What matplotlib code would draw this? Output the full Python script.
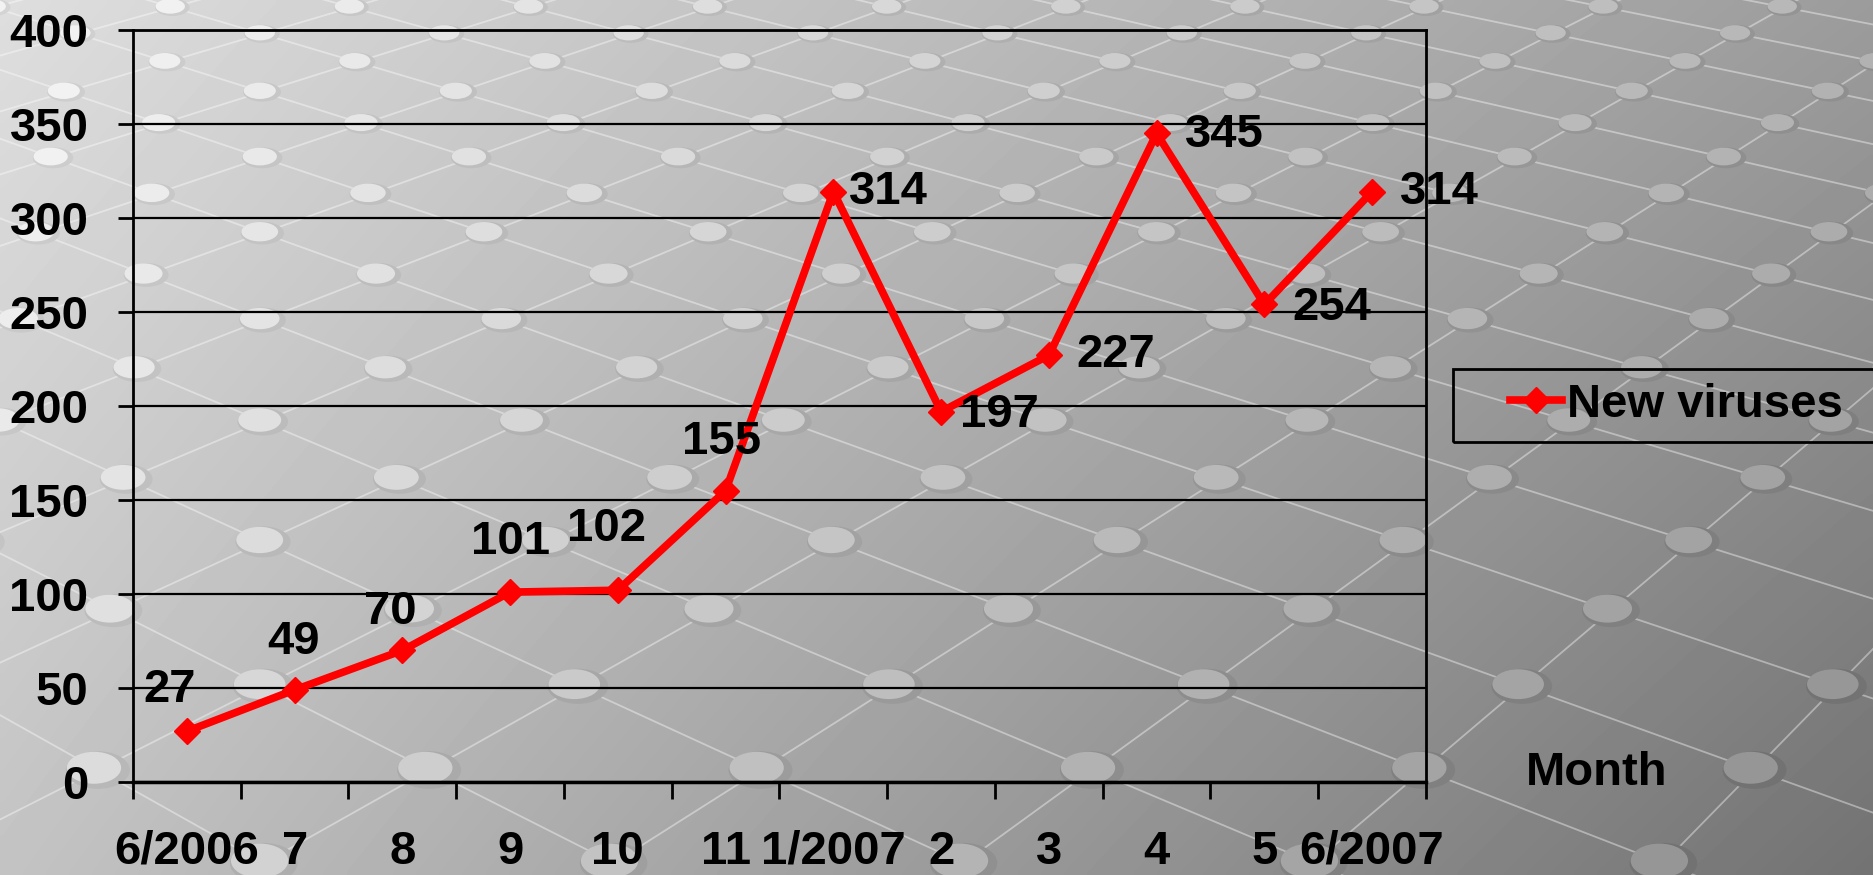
import numpy as np
import matplotlib
matplotlib.use("Agg")
import matplotlib.pyplot as plt
from matplotlib.patches import Ellipse, Rectangle

# data
months = ["6/2006", "7", "8", "9", "10", "11", "1/2007", "2", "3", "4", "5", "6/2007"]
new_viruses = [27, 49, 70, 101, 102, 155, 314, 197, 227, 345, 254, 314]
y_ticks = [0, 50, 100, 150, 200, 250, 300, 350, 400]
series_name = "New viruses"

# label offsets in pixels (dx, dy, ha)
label_offsets = [(-17, 41, "center"), (-1, 48, "center"), (-12, 38, "center"),
                 (0, 50, "center"), (-11, 61, "center"), (-4, 49, "center"),
                 (16, 0, "left"), (19, -3, "left"), (28, 0, "left"),
                 (28, -2, "left"), (28, -4, "left"), (28, 0, "left")]

W, H = 1873, 875
plt.rcParams["font.family"] = ["Liberation Sans", "DejaVu Sans"]
plt.rcParams["font.weight"] = "bold"
plt.rcParams["font.size"] = 34

fig = plt.figure(figsize=(W / 100, H / 100), dpi=100)

# background gradient
bg = fig.add_axes([0, 0, 1, 1])
bg.set_xlim(0, W)
bg.set_ylim(H, 0)
bg.axis("off")
tl, tr, bl, br = 0.87, 0.61, 0.765, 0.45


def shade(px, py):
    u, w = px / W, py / H
    return (1 - w) * ((1 - u) * tl + u * tr) + w * ((1 - u) * bl + u * br)


gx, gy = np.meshgrid(np.linspace(0, W, 300), np.linspace(0, H, 150))
bg.imshow(shade(gx, gy), cmap="gray", vmin=0, vmax=1, extent=(0, W, H, 0),
          aspect="auto", interpolation="bilinear", zorder=0)

# decorative perspective lattice of lines and balls
yh, cx, step, row_dv = -890, 260, 199.6, 0.032


def to_screen(xw, k):
    v = 1.0504 - row_dv * k
    return cx + xw / v, yh + 1000 / v


ks = np.linspace(-4, 16.5, 50)
for m in range(-12, 20):
    for sgn in (1, -1):
        xs, ys = to_screen(-97.7 + step * m + sgn * step / 2 * ks, ks)
        bg.plot(xs, ys, color="white", lw=1.3, alpha=0.4, zorder=1)
for k in range(-4, 17):
    for j in range(-12, 20):
        px, py = to_screen(-97.7 + step * (j + 0.5 * (k % 2)), k)
        if not (-60 < px < W + 60 and -40 < py < H + 40):
            continue
        v = 1.0504 - row_dv * k
        w = 38.5 / v
        h = w * (0.5 + 0.1 * py / H)
        c = shade(px, py)
        bg.add_patch(Ellipse((px, py), w, h, facecolor=str(max(c - 0.04, 0)),
                             edgecolor="none", zorder=2))
        bg.add_patch(Ellipse((px - w * 0.06, py - h * 0.06), w * 0.85, h * 0.85,
                             facecolor=str(min(c + 0.1, 0.95)), edgecolor="none",
                             zorder=2))

# main chart
ax = fig.add_axes([133 / W, 1 - 782 / H, (1426 - 133) / W, (782 - 30) / H])
ax.patch.set_alpha(0)
x = np.arange(len(months))
ax.plot(x, new_viruses, color="#ff0000", lw=5.5, marker="D", ms=13,
        label=series_name, zorder=5)
ax.set_xlim(-0.5, len(months) - 0.5)
ax.set_ylim(0, 400)
ax.set_yticks(y_ticks)
ax.yaxis.grid(True, color="black", lw=1.6)
ax.set_axisbelow(True)
ax.set_xticks(np.arange(-0.5, len(months)))
ax.set_xticklabels([])
ax.set_xticks(x, minor=True)
ax.set_xticklabels(months, minor=True, va="baseline")
ax.tick_params(axis="x", which="major", length=12, width=2, direction="out")
ax.tick_params(axis="x", which="minor", length=0, pad=59)
ax.tick_params(axis="y", length=11, width=2, pad=21)
for s in ax.spines.values():
    s.set_color("black")
    s.set_linewidth(2)
ax.spines["bottom"].set_linewidth(2.5)

for xi, val, (dx, dy, ha) in zip(x, new_viruses, label_offsets):
    ax.annotate(str(val), (xi, val), xytext=(dx, dy), textcoords="offset pixels",
                ha=ha, va="center", zorder=6)

fig.text(1597 / W, 1 - 773 / H, "Month", ha="center", va="center")

fig.legend(loc="center left", bbox_to_anchor=(1510 / W, 1 - 405 / H), frameon=False,
           handlelength=1.1, handletextpad=0.1, borderaxespad=0, borderpad=0)
fig.patches.append(Rectangle((1453 / W, 1 - 442 / H), (1900 - 1453) / W, 73 / H,
                             transform=fig.transFigure, fill=False, ec="black", lw=2))

fig.savefig("out.png", dpi=100)
